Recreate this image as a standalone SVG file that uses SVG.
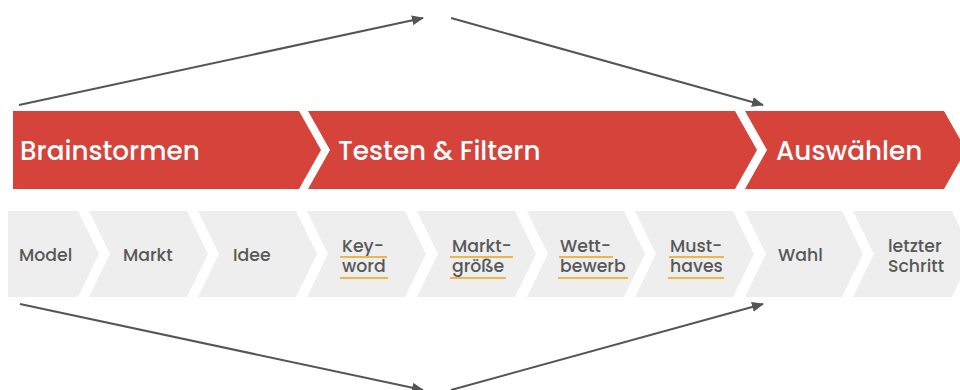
<svg xmlns="http://www.w3.org/2000/svg" width="960" height="390" viewBox="0 0 960 390">
<defs>
<marker id="ah" viewBox="0 0 12 10" refX="11" refY="5" markerWidth="12" markerHeight="10" markerUnits="userSpaceOnUse" orient="auto">
<path d="M0,0 L12,5 L0,10 z" fill="#555"/>
</marker>
<style>
.red{fill:#d5433a}
.gray{fill:#eeeeee}
.ht{font-family:Poppins,Inter,"Liberation Sans",sans-serif;font-size:26.3px;font-weight:500;fill:#fff}
.st{font-family:Poppins,Inter,"Liberation Sans",sans-serif;font-size:17.3px;font-weight:500;fill:#585858}
.ul{stroke:#f0b44c;stroke-width:2}
.con{stroke:#555;stroke-width:2;fill:none;marker-end:url(#ah)}
</style>
</defs>
<rect width="960" height="390" fill="#fff"/>
<g id="phase-brainstormen"><polygon class="red" points="13,111 299,111 321,150 299,189 13,189"/><text class="ht" x="20" y="160">Brainstormen</text></g>
<g id="phase-testen"><polygon class="red" points="308,111 735,111 757,150 735,189 308,189 330,150"/><text class="ht" x="338" y="160">Testen &amp; Filtern</text></g>
<g id="phase-auswaehlen"><polygon class="red" points="745,111 944,111 966,150 944,189 745,189 767,150"/><text class="ht" x="776" y="160">Auswählen</text></g>

<g id="step-model"><polygon class="gray" points="8,211 78,211 99,254 78,297 8,297"/><text class="st" x="19" y="261">Model</text></g>
<g id="step-markt"><polygon class="gray" points="89,211 187,211 208,254 187,297 89,297 110,254"/><text class="st" x="123" y="261">Markt</text></g>
<g id="step-idee"><polygon class="gray" points="198,211 296,211 317,254 296,297 198,297 219,254"/><text class="st" x="233" y="261">Idee</text></g>
<g id="step-keyword"><polygon class="gray" points="307,211 405,211 426,254 405,297 307,297 328,254"/><text class="st" x="342" y="252">Key-</text><text class="st" x="342" y="272">word</text><line class="ul" x1="340" y1="257" x2="387" y2="257"/><line class="ul" x1="340" y1="278" x2="388" y2="278"/></g>
<g id="step-marktgroesse"><polygon class="gray" points="417,211 515,211 536,254 515,297 417,297 438,254"/><text class="st" x="452" y="252">Markt-</text><text class="st" x="452" y="272">größe</text><line class="ul" x1="450" y1="257" x2="513" y2="257"/><line class="ul" x1="450" y1="278" x2="506" y2="278"/></g>
<g id="step-wettbewerb"><polygon class="gray" points="527,211 624,211 645,254 624,297 527,297 548,254"/><text class="st" x="560" y="252">Wett-</text><text class="st" x="560" y="272">bewerb</text><line class="ul" x1="559" y1="257" x2="613" y2="257"/><line class="ul" x1="558" y1="278" x2="628" y2="278"/></g>
<g id="step-musthaves"><polygon class="gray" points="635,211 733,211 754,254 733,297 635,297 656,254"/><text class="st" x="670" y="252">Must-</text><text class="st" x="670" y="272">haves</text><line class="ul" x1="669" y1="257" x2="724" y2="257"/><line class="ul" x1="668" y1="278" x2="724" y2="278"/></g>
<g id="step-wahl"><polygon class="gray" points="745,211 842,211 863,254 842,297 745,297 766,254"/><text class="st" x="778" y="261">Wahl</text></g>
<g id="step-letzter"><polygon class="gray" points="853,211 952,211 973,254 952,297 853,297 874,254"/><text class="st" x="888" y="252">letzter</text><text class="st" x="888" y="272">Schritt</text></g>

<g id="connectors">
<line class="con" x1="19" y1="105" x2="423" y2="18"/>
<line class="con" x1="451" y1="18" x2="763" y2="105"/>
<line class="con" x1="20" y1="304" x2="423" y2="390"/>
<line class="con" x1="451" y1="390" x2="763" y2="304"/>
</g>
</svg>
